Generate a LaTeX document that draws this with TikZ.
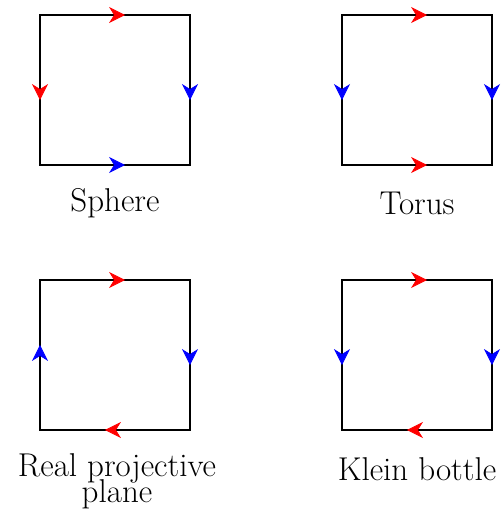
\documentclass[tikz,border=0pt]{standalone}
\usetikzlibrary{arrows.meta,decorations.markings}
\tikzset{
  sq/.style={draw=black, line width=1.1pt},
  mk/.style={postaction={decorate}, decoration={markings, mark=at position 0.567 with {\arrow[#1]{Stealth[length=8pt,width=8pt,inset=2.5pt]}}}},
  lbl/.style={font={\fontsize{16.5}{13}\selectfont\lineskiplimit=-\maxdimen}, align=center, inner sep=0pt},
}
\begin{document}
\begin{tikzpicture}[x=0.5pt, y=-0.5pt]
\useasboundingbox (0,0) rectangle (501,512);
% Sphere
\coordinate (a1) at (40,15); \coordinate (b1) at (190,15);
\coordinate (c1) at (190,165); \coordinate (d1) at (40,165);
\draw[sq] (a1) -- (b1) -- (c1) -- (d1) -- cycle;
\path[mk=red] (a1) -- (b1);
\path[mk=red] (a1) -- (d1);
\path[mk=blue] (b1) -- (c1);
\path[mk=blue] (d1) -- (c1);
\node[lbl, anchor=base] (l1) at (115,212) {Sphere};
% Torus
\coordinate (a2) at (342,15); \coordinate (b2) at (492,15);
\coordinate (c2) at (492,165); \coordinate (d2) at (342,165);
\draw[sq] (a2) -- (b2) -- (c2) -- (d2) -- cycle;
\path[mk=red] (a2) -- (b2);
\path[mk=red] (d2) -- (c2);
\path[mk=blue] (a2) -- (d2);
\path[mk=blue] (b2) -- (c2);
\node[lbl, anchor=base] (l2) at (417,215) {Torus};
% Real projective plane
\coordinate (a3) at (40,280); \coordinate (b3) at (190,280);
\coordinate (c3) at (190,430); \coordinate (d3) at (40,430);
\draw[sq] (a3) -- (b3) -- (c3) -- (d3) -- cycle;
\path[mk=red] (a3) -- (b3);
\path[mk=red] (c3) -- (d3);
\path[mk=blue] (d3) -- (a3);
\path[mk=blue] (b3) -- (c3);
\node[lbl, anchor=base] (l3) at (117,502) {Real projective\\plane};
% Klein bottle
\coordinate (a4) at (342,280); \coordinate (b4) at (492,280);
\coordinate (c4) at (492,430); \coordinate (d4) at (342,430);
\draw[sq] (a4) -- (b4) -- (c4) -- (d4) -- cycle;
\path[mk=red] (a4) -- (b4);
\path[mk=red] (c4) -- (d4);
\path[mk=blue] (a4) -- (d4);
\path[mk=blue] (b4) -- (c4);
\node[lbl, anchor=base] (l4) at (417,480) {Klein bottle};
\end{tikzpicture}
\end{document}
